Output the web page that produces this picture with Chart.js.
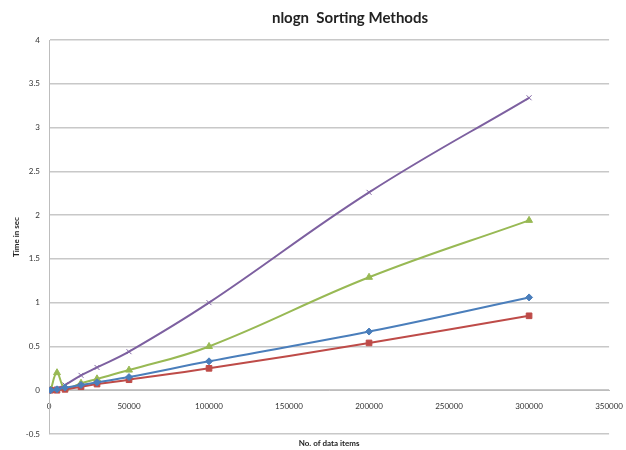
<!DOCTYPE html>
<html>
<head>
<meta charset="utf-8">
<script src="https://cdn.jsdelivr.net/npm/chart.js@4/dist/chart.umd.min.js"></script>
<style>
  html, body { margin: 0; padding: 0; background: #fff; }
  #wrap { width: 626px; height: 450px; }
</style>
</head>
<body>
<div id="wrap"><canvas id="sortChart"></canvas></div>
<script>
// Input sizes and timings (seconds) for each sorting method
const sizes = [1000, 5000, 10000, 20000, 30000, 50000, 100000, 200000, 300000];
const blueTimes = [0, 0.01, 0.03, 0.06, 0.09, 0.15, 0.33, 0.67, 1.06];
const redTimes = [0, 0.0, 0.01, 0.04, 0.07, 0.12, 0.25, 0.54, 0.85];
const greenTimes = [0, 0.2, 0.02, 0.08, 0.13, 0.23, 0.5, 1.29, 1.94];
const purpleTimes = [0, 0.02, 0.06, 0.17, 0.26, 0.44, 1.0, 2.26, 3.34];

const chartTitle = 'nlogn  Sorting Methods';
const xTitle = 'No. of data items';
const yTitle = 'Time in sec';

const toPoints = times => sizes.map((s, i) => ({ x: s, y: times[i] }));

const series = [
  { label: 'Series1', data: blueTimes, color: '#4a7ebb', style: 'rectRot', r: 3.5 },
  { label: 'Series2', data: redTimes, color: '#be4b48', style: 'rect', r: 4 },
  { label: 'Series3', data: greenTimes, color: '#98b954', style: 'triangle', r: 4 },
  { label: 'Series4', data: purpleTimes, color: '#7d60a0', style: 'crossRot', r: 3.5 }
];

// Title is drawn over the plot centre rather than the canvas centre
const titlePlugin = {
  id: 'plotTitle',
  afterDraw(chart) {
    const c = chart.ctx;
    c.save();
    c.font = 'bold 15px Lato, "Open Sans", sans-serif';
    c.fillStyle = '#222';
    c.textAlign = 'center';
    c.textBaseline = 'middle';
    c.fillText(chartTitle, 350, 18);
    c.restore();
  }
};

const tickFont = { family: 'Lato, "Open Sans", sans-serif', size: 8 };

new Chart(document.getElementById('sortChart'), {
  type: 'line',
  data: {
    datasets: series.map(s => ({
      label: s.label,
      data: toPoints(s.data),
      borderColor: s.color,
      backgroundColor: s.color,
      borderWidth: 2,
      tension: 0.4,
      pointStyle: s.style,
      pointRadius: s.r,
      pointBorderWidth: 1,
      pointBorderColor: s.color
    }))
  },
  options: {
    responsive: true,
    maintainAspectRatio: false,
    animation: false,
    layout: { padding: { top: 40, right: 0, left: 12, bottom: 0 } },
    plugins: {
      legend: { display: false },
      tooltip: { enabled: false }
    },
    scales: {
      x: {
        type: 'linear',
        position: { y: 0 },
        min: 0,
        max: 350000,
        grid: { display: false },
        border: { display: true, color: '#bdbdbd', width: 1 },
        ticks: {
          stepSize: 50000,
          color: '#333',
          font: tickFont,
          padding: 3,
          maxRotation: 0,
          callback: v => String(v)
        }
      },
      xTitleAxis: {
        type: 'linear',
        position: 'bottom',
        min: 0,
        max: 1,
        grid: { display: false },
        border: { display: false },
        ticks: { display: false },
        title: {
          display: true,
          text: xTitle,
          color: '#222',
          font: { family: 'Lato, "Open Sans", sans-serif', size: 8, weight: 'bold' },
          padding: { top: 2, bottom: 2 }
        },
        afterFit: scale => { scale.height = 16; }
      },
      y: {
        min: -0.5,
        max: 4,
        grid: { color: '#c8c8c8', lineWidth: 1.5, drawTicks: false },
        border: { display: true, color: '#bdbdbd', width: 1 },
        ticks: {
          stepSize: 0.5,
          color: '#333',
          font: tickFont,
          padding: 9,
          callback: v => String(v)
        },
        title: {
          display: true,
          text: yTitle,
          color: '#222',
          font: { family: 'Lato, "Open Sans", sans-serif', size: 8, weight: 'bold' },
          padding: { top: 0, bottom: 4 }
        },
        afterFit: scale => { scale.width = 37; }
      }
    }
  },
  plugins: [titlePlugin]
});
</script>
</body>
</html>
